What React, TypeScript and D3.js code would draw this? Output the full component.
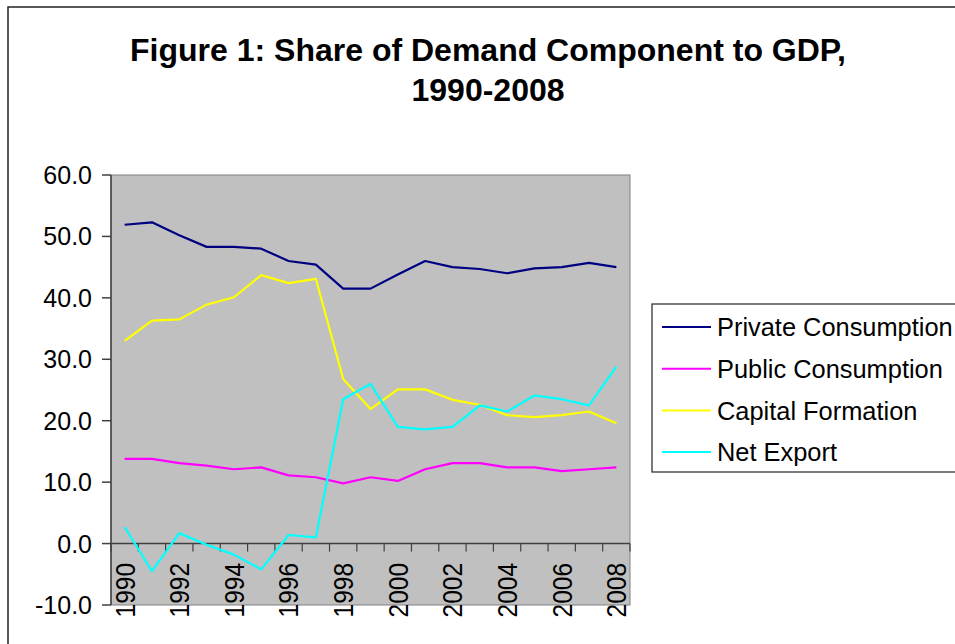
import * as d3 from "d3";

const years = ["1990","1991","1992","1993","1994","1995","1996","1997","1998","1999","2000","2001","2002","2003","2004","2005","2006","2007","2008"];
const privateConsumption = [51.9, 52.3, 50.2, 48.3, 48.3, 48.0, 46.0, 45.4, 41.5, 41.5, 43.8, 46.0, 45.0, 44.7, 44.0, 44.8, 45.0, 45.7, 45.0];
const publicConsumption = [13.8, 13.8, 13.1, 12.7, 12.1, 12.4, 11.1, 10.8, 9.8, 10.8, 10.2, 12.1, 13.1, 13.1, 12.4, 12.4, 11.8, 12.1, 12.4];
const capitalFormation = [33.0, 36.3, 36.5, 38.9, 40.1, 43.7, 42.4, 43.1, 26.8, 21.9, 25.1, 25.1, 23.4, 22.6, 20.9, 20.6, 20.9, 21.5, 19.6];
const netExport = [2.7, -4.5, 1.7, -0.2, -1.8, -4.2, 1.4, 1.0, 23.5, 26.0, 19.0, 18.6, 19.0, 22.5, 21.5, 24.1, 23.5, 22.5, 28.8];
const yTicks = [-10, 0, 10, 20, 30, 40, 50, 60];
const seriesNames = ["Private Consumption", "Public Consumption", "Capital Formation", "Net Export"];
const seriesColors = ["#000080", "#FF00FF", "#FFFF00", "#00FFFF"];

const FONT = "'Liberation Sans', Arial, sans-serif";

export default function App() {
    const W = 955, H = 644;
    const plot = { left: 111, top: 175, right: 630, bottom: 605 };

    // category positions (points in the middle of each band)
    const xScale = d3.scalePoint<string>().domain(years).range([plot.left, plot.right]).padding(0.5);
    const step = xScale.step();
    const yScale = d3.scaleLinear().domain([-10, 60]).range([plot.bottom, plot.top]);

    const line = d3
        .line<number>()
        .x((d, i) => xScale(years[i]) as number)
        .y(d => yScale(d));

    const allSeries = [privateConsumption, publicConsumption, capitalFormation, netExport];
    const zeroY = yScale(0);
    const boundaries = d3.range(years.length + 1).map(i => plot.left + i * step);

    return (
        <svg width={W} height={H} style={{ position: "absolute", left: 0, top: 0, background: "#fff" }} fontFamily={FONT}>
            {/* chart area border, runs off the right/bottom */}
            <rect x={8} y={7} width={1000} height={700} fill="#fff" stroke="#222" strokeWidth={1.5} />

            <text x={488} y={61} textAnchor="middle" fontSize={32} fontWeight="bold">
                Figure 1: Share of Demand Component to GDP,
            </text>
            <text x={488} y={101} textAnchor="middle" fontSize={32} fontWeight="bold">
                1990-2008
            </text>

            {/* plot area */}
            <rect x={plot.left} y={plot.top} width={plot.right - plot.left} height={plot.bottom - plot.top} fill="#C0C0C0" stroke="#808080" strokeWidth={1} />

            {/* y axis */}
            <line x1={plot.left} x2={plot.left} y1={plot.top} y2={plot.bottom} stroke="#404040" strokeWidth={1.5} />
            {yTicks.map(t => (
                <g key={t}>
                    <line x1={plot.left - 9} x2={plot.left} y1={yScale(t)} y2={yScale(t)} stroke="#404040" strokeWidth={1.5} />
                    <text x={92} y={yScale(t)} dy="0.36em" textAnchor="end" fontSize={25}>
                        {t.toFixed(1)}
                    </text>
                </g>
            ))}

            {/* x axis at zero */}
            <line x1={plot.left} x2={plot.right} y1={zeroY} y2={zeroY} stroke="#404040" strokeWidth={1.5} />
            {boundaries.map((bx, i) => (
                <line key={i} x1={bx} x2={bx} y1={zeroY} y2={zeroY + 8} stroke="#404040" strokeWidth={1.2} />
            ))}
            {years.map((yr, i) =>
                i % 2 === 0 ? (
                    <text
                        key={yr}
                        transform={`translate(${xScale(yr)},563) rotate(-90) scale(1,1.12)`}
                        dy="0.36em"
                        textAnchor="end"
                        fontSize={24.5}
                    >
                        {yr}
                    </text>
                ) : null
            )}

            {/* series */}
            {allSeries.map((s, i) => (
                <path key={i} d={line(s) as string} fill="none" stroke={seriesColors[i]} strokeWidth={2.2} strokeLinejoin="round" />
            ))}

            {/* legend */}
            <rect x={652} y={304} width={400} height={168} fill="#fff" stroke="#222" strokeWidth={1.2} />
            {seriesNames.map((name, i) => {
                const ly = 327 + i * 41.7;
                return (
                    <g key={name}>
                        <line x1={662} x2={711} y1={ly} y2={ly} stroke={seriesColors[i]} strokeWidth={2} />
                        <text x={717} y={ly} dy="0.36em" fontSize={25.4}>
                            {name}
                        </text>
                    </g>
                );
            })}
        </svg>
    );
}
